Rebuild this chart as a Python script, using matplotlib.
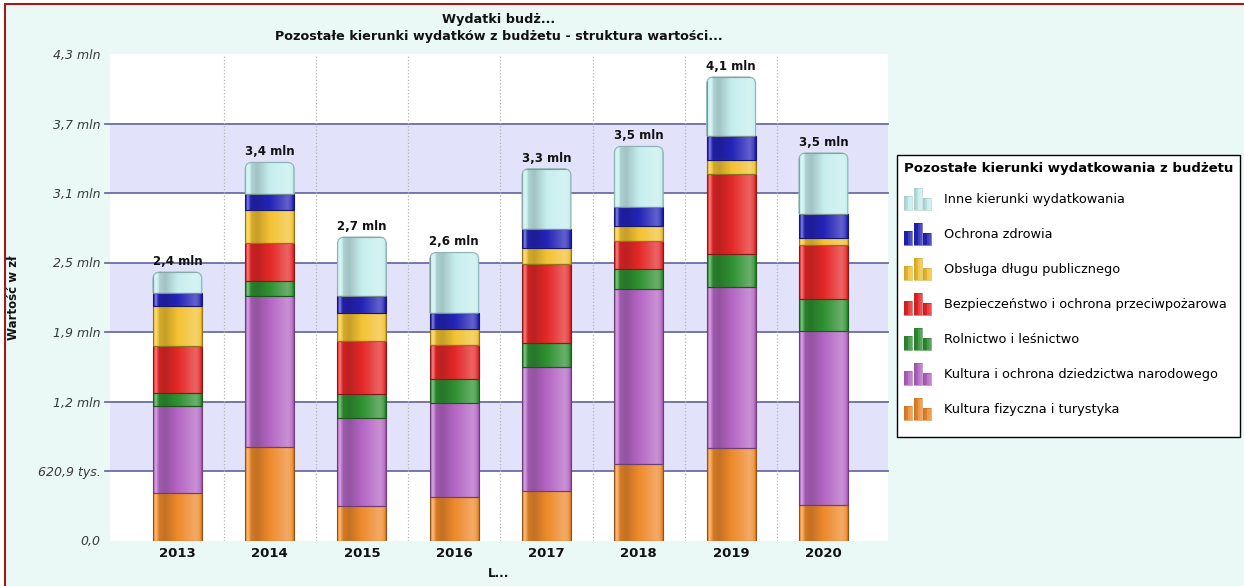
import matplotlib
matplotlib.use('Agg')
import matplotlib.pyplot as plt
import numpy as np
from matplotlib.colors import to_rgb
from matplotlib.legend_handler import HandlerBase
from matplotlib.patches import FancyBboxPatch, Patch, Rectangle
from matplotlib.ticker import FuncFormatter, MultipleLocator

plt.rcParams['font.family'] = 'DejaVu Sans'

years = ['2013', '2014', '2015', '2016', '2017', '2018', '2019', '2020']

# wartości w tys. zł, od dołu słupka
kultura_fizyczna = [420, 833, 308, 386, 445, 684, 824, 317]
kultura_dziedzictwo = [780, 1347, 785, 846, 1109, 1562, 1445, 1559]
rolnictwo = [120, 134, 214, 215, 209, 179, 290, 280]
bezpieczenstwo = [417, 343, 479, 298, 709, 250, 718, 480]
obsluga_dlugu = [357, 298, 245, 143, 137, 131, 125, 66]
ochrona_zdrowia = [114, 143, 155, 143, 173, 173, 208, 214]
inne = [190, 280, 525, 542, 539, 542, 531, 546]

series = [kultura_fizyczna, kultura_dziedzictwo, rolnictwo, bezpieczenstwo,
          obsluga_dlugu, ochrona_zdrowia, inne]
names = [
    'Kultura fizyczna i turystyka',
    'Kultura i ochrona dziedzictwa narodowego',
    'Rolnictwo i leśnictwo',
    'Bezpieczeństwo i ochrona przeciwpożarowa',
    'Obsługa długu publicznego',
    'Ochrona zdrowia',
    'Inne kierunki wydatkowania',
]
colors = ['#ee8a2c', '#b466c4', '#2f9132', '#e52828', '#f2c232', '#2424b8', '#c6eeee']

TICK_STEP = 620900
GRID_COLOR = '#6c6ca8'
BAND_COLOR = '#e2e2fa'

SHADE_X = [0.0, 0.05, 0.12, 0.25, 0.65, 0.88, 0.96, 1.0]
SHADE_V = [-0.15, 0.45, -0.12, -0.18, 0.10, 0.28, 0.15, -0.12]


def shaded_strip(base, n=64):
    t = np.linspace(0, 1, n)
    f = np.interp(t, SHADE_X, SHADE_V)[:, None]
    rgb = np.array(to_rgb(base))
    out = np.where(f > 0, rgb + (1 - rgb) * f, rgb * (1 + f))
    return np.clip(out, 0, 1)[None, :, :]


def darker(c, k=0.7):
    return tuple(np.array(to_rgb(c)) * k)


def fmt_value(v, _pos=None):
    if v == 0:
        return '0,0'
    if v < 1e6:
        return f'{v / 1e3:.1f} tys.'.replace('.', ',', 1)
    return f'{v / 1e6:.1f} mln'.replace('.', ',')


class BarIconHandler(HandlerBase):
    """Ikonka legendy: trzy małe słupki z cieniowaniem."""

    def create_artists(self, legend, orig_handle, xdescent, ydescent,
                       width, height, fontsize, trans):
        color = orig_handle.get_facecolor()
        strip = shaded_strip(color, 16)[0]
        bw = width / 3.4
        gap = (width - 3 * bw) / 2
        artists = []
        for k, hk in enumerate([0.64, 1.0, 0.52]):
            x0 = -xdescent + k * (bw + gap)
            h = height * hk
            # pionowe paski imitujące połysk
            nstep = 4
            for j in range(nstep):
                c = strip[int((j + 0.5) / nstep * len(strip))]
                artists.append(Rectangle((x0 + j * bw / nstep, -ydescent), bw / nstep, h,
                                         facecolor=c, lw=0, transform=trans))
            artists.append(Rectangle((x0, -ydescent), bw, h, facecolor='none',
                                     edgecolor=darker(color, 0.85), lw=0.4, transform=trans))
        return artists


fig = plt.figure(figsize=(12.44, 5.86), dpi=100, facecolor='white')
fig.patches.append(Rectangle((5 / 1244, -0.05), 1.1, 1 - 4 / 586 + 0.05,
                             transform=fig.transFigure, facecolor='#ebf9f6',
                             edgecolor='#a01c1c', lw=1.5, zorder=-10))
ax = fig.add_axes([110 / 1244, 1 - 540.5 / 586, 778 / 1244, 486.5 / 586])
ax.set_facecolor('white')

x = np.arange(len(years))
width = 0.53
ymax = 7 * TICK_STEP
px_y = ymax / 486.5
px_x = 8.43 / 778

for k in range(1, 7, 2):
    ax.axhspan(k * TICK_STEP, (k + 1) * TICK_STEP, color=BAND_COLOR, zorder=0, lw=0)
for k in range(1, 7):
    ax.axhline(k * TICK_STEP, xmin=-0.006, color=GRID_COLOR, lw=1.3, zorder=1, clip_on=False)
for b in x[:-1] + 0.5:
    ax.axvline(b, color='#b4b4b4', ls=':', lw=0.9, zorder=1)

bottom = np.zeros(len(years))
for idx, (vals, color) in enumerate(zip(series, colors)):
    vals_zl = np.array(vals, dtype=float) * 1000
    bars = ax.bar(x, vals_zl, width, bottom=bottom, color=color,
                  edgecolor=darker(color, 0.6), lw=0.8, zorder=2)
    strip = shaded_strip(color)
    for patch in bars.patches:
        x0, y0 = patch.get_xy()
        w, h = patch.get_width(), patch.get_height()
        im = ax.imshow(strip, extent=(x0, x0 + w, y0, y0 + h), aspect='auto',
                       interpolation='bilinear', zorder=3)
        clip = patch
        if idx == len(series) - 1:
            r = 7 * px_x
            clip = FancyBboxPatch((x0, y0 - 10 * px_y), w, h + 10 * px_y,
                                  boxstyle=f'round,pad=0,rounding_size={r}',
                                  mutation_aspect=7 * px_y / r, transform=ax.transData)
            outline = FancyBboxPatch((x0, y0 - 10 * px_y), w, h + 10 * px_y,
                                     boxstyle=f'round,pad=0,rounding_size={r}',
                                     mutation_aspect=7 * px_y / r, facecolor='none',
                                     edgecolor='#8fb4b6', lw=0.8, zorder=4)
            ax.add_patch(outline)
            outline.set_clip_path(Rectangle((x0 - 0.1, y0), w + 0.2, h + ymax,
                                            transform=ax.transData))
            patch.set_clip_path(clip)
        im.set_clip_path(clip)
        patch.set_facecolor('none')
        patch.set_zorder(4)
    bottom += vals_zl

for xi, total in zip(x, bottom):
    ax.annotate(fmt_value(total), (xi, total), xytext=(0, 3), textcoords='offset points',
                ha='center', va='bottom', fontsize=8.5, fontweight='bold', color='#111111')

ax.set_xlim(-0.73, 7.70)
ax.set_ylim(0, ymax)
ax.set_xticks(x, years)
ax.yaxis.set_major_locator(MultipleLocator(TICK_STEP))
ax.yaxis.set_major_formatter(FuncFormatter(fmt_value))
for s in ax.spines.values():
    s.set_visible(False)
ax.tick_params(axis='x', length=0, pad=5, labelsize=9.5, labelcolor='#111111')
for lab in ax.get_xticklabels():
    lab.set_fontweight('bold')
ax.tick_params(axis='y', length=0, pad=7, labelsize=9, labelcolor='#3a3a3a')
for lab in ax.get_yticklabels():
    lab.set_fontstyle('italic')

ax.set_title('Wydatki budż...\nPozostałe kierunki wydatków z budżetu - struktura wartości...',
             fontsize=9.2, fontweight='bold', color='#111111', pad=10, linespacing=1.45)
ax.set_ylabel('Wartość w zł', fontsize=8.5, fontweight='bold', color='#111111')
ax.yaxis.set_label_coords(-90 / 778, 0.5)
ax.set_xlabel('L...', fontsize=8.5, fontweight='bold', color='#111111', labelpad=5)

# ramka legendy rysowana osobno, bo jest wyższa niż jej zawartość
fig.patches.append(Rectangle((897 / 1244, 1 - 437 / 586), 343 / 1244, 282 / 586,
                             transform=fig.transFigure, facecolor='white',
                             edgecolor='black', lw=1.0, zorder=1))
handles = [Patch(facecolor=c) for c in colors][::-1]
leg = fig.legend(handles, names[::-1], loc='upper left',
                 bbox_to_anchor=(897 / 1244, 1 - 155 / 586), borderaxespad=0,
                 title='Pozostałe kierunki wydatkowania z budżetu',
                 title_fontproperties={'weight': 'bold', 'size': 9.5},
                 fontsize=9.3, handler_map={Patch: BarIconHandler()},
                 handlelength=2.1, handleheight=2.3, labelspacing=0.97,
                 handletextpad=1.0, borderpad=0.55, frameon=False)
leg.set_zorder(2)
leg._legend_box.align = 'left'

fig.savefig('out.png', dpi=100, facecolor=fig.get_facecolor())
